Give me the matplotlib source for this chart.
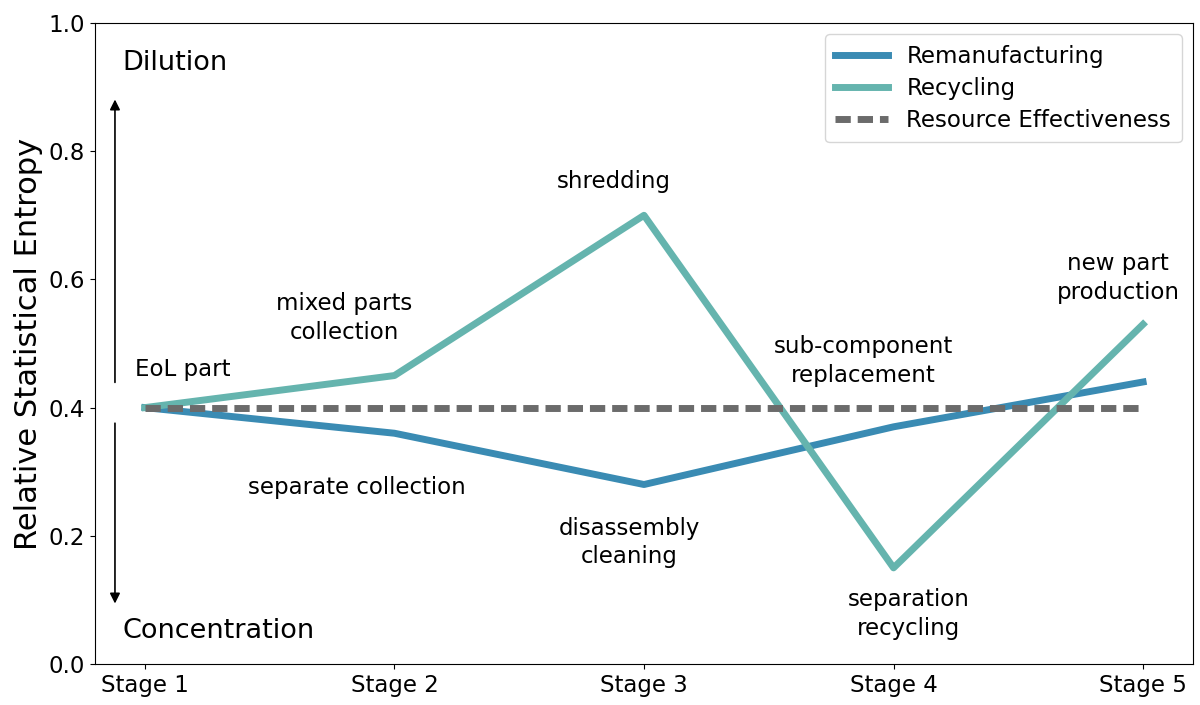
import matplotlib
matplotlib.use("Agg")
import matplotlib.pyplot as plt

stages = ["Stage 1", "Stage 2", "Stage 3", "Stage 4", "Stage 5"]
remanufacturing = [0.40, 0.36, 0.28, 0.37, 0.44]
recycling = [0.40, 0.45, 0.70, 0.15, 0.53]
resource_effectiveness = [0.40, 0.40, 0.40, 0.40, 0.40]

x = list(range(1, len(stages) + 1))

fig = plt.figure(figsize=(12, 7.05), dpi=100)
ax = fig.add_axes([95/1200, 1 - 664/705, (1193-95)/1200, (664-23)/705])

ax.plot(x, remanufacturing, color="#3a8bb3", lw=5, label="Remanufacturing")
ax.plot(x, recycling, color="#65b4ae", lw=5, label="Recycling")
ax.plot(x, resource_effectiveness, color="#6b6b6b", lw=5, ls=(0, (2.2, 1.0)), label="Resource Effectiveness")

ax.set_xlim(0.8, 5.2)
ax.set_ylim(0, 1.0)
ax.set_xticks(x)
ax.set_xticklabels(stages, fontsize=16.5)
ax.tick_params(axis="y", labelsize=16.5)
ax.set_ylabel("Relative Statistical Entropy", fontsize=22)

ax.annotate("", xy=(0.88, 0.885), xytext=(0.88, 0.435),
            arrowprops=dict(arrowstyle="-|>", color="black", lw=1.2, mutation_scale=15))
ax.annotate("", xy=(0.88, 0.09), xytext=(0.88, 0.38),
            arrowprops=dict(arrowstyle="-|>", color="black", lw=1.2, mutation_scale=15))
ax.text(0.91, 0.938, "Dilution", fontsize=19.5, va="center", ha="left")
ax.text(0.91, 0.051, "Concentration", fontsize=19.5, va="center", ha="left")

labels = [
    (1.15, 0.46, "EoL part"),
    (1.80, 0.54, "mixed parts\ncollection"),
    (1.85, 0.275, "separate collection"),
    (2.88, 0.753, "shredding"),
    (2.94, 0.19, "disassembly\ncleaning"),
    (3.88, 0.473, "sub-component\nreplacement"),
    (4.06, 0.078, "separation\nrecycling"),
    (4.90, 0.602, "new part\nproduction"),
]
for lx, ly, t in labels:
    ax.text(lx, ly, t, fontsize=16.5, ha="center", va="center", linespacing=1.3)

ax.legend(loc="upper right", fontsize=16.5, handlelength=2.3, borderpad=0.45, labelspacing=0.4)

fig.savefig("out.png", dpi=100)
